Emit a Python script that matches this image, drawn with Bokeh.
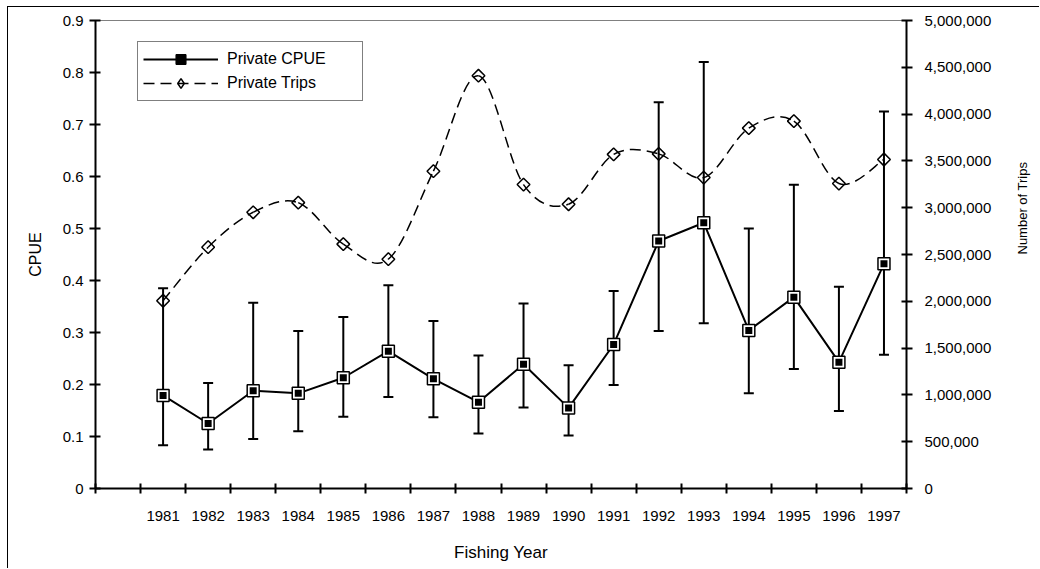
import math
from bokeh.plotting import figure
from bokeh.models import (Range1d, LinearAxis, FixedTicker, Whisker, TeeHead,
                          ColumnDataSource, Legend, LegendItem,
                          CustomJSTickFormatter, NumeralTickFormatter)
from bokeh.embed import file_html
from bokeh.resources import INLINE

# ---------------- data ----------------
years = [1981, 1982, 1983, 1984, 1985, 1986, 1987, 1988, 1989,
         1990, 1991, 1992, 1993, 1994, 1995, 1996, 1997]
year_labels = [str(y) for y in years]
cpue = [0.179, 0.125, 0.188, 0.183, 0.213, 0.264, 0.211, 0.166, 0.239,
        0.155, 0.277, 0.476, 0.511, 0.304, 0.368, 0.243, 0.432]
cpue_upper = [0.385, 0.203, 0.357, 0.303, 0.330, 0.391, 0.322, 0.256, 0.356,
              0.237, 0.380, 0.743, 0.820, 0.500, 0.584, 0.388, 0.725]
cpue_lower = [0.083, 0.075, 0.095, 0.110, 0.138, 0.176, 0.137, 0.106, 0.156,
              0.102, 0.199, 0.303, 0.318, 0.183, 0.230, 0.149, 0.257]
trips = [2006000, 2578000, 2951000, 3054000, 2611000, 2450000, 3390000,
         4410000, 3247000, 3037000, 3570000, 3575000, 3322000, 3850000,
         3925000, 3258000, 3515000]
cpue_ticks = [0, 0.1, 0.2, 0.3, 0.4, 0.5, 0.6, 0.7, 0.8, 0.9]
trip_ticks = [0, 500000, 1000000, 1500000, 2000000, 2500000, 3000000,
              3500000, 4000000, 4500000, 5000000]

FONT = "Liberation Sans"

# category boundaries (one empty slot before the first year)
x_start = years[0] - 1.5
x_end = years[-1] + 0.5
boundaries = [x_start + i for i in range(len(years) + 2)]

p = figure(width=1032, height=562,
           x_range=Range1d(x_start, x_end), y_range=Range1d(0, 0.9),
           x_axis_type=None, y_axis_type=None,
           output_backend="svg", toolbar_location=None,
           min_border_left=87, min_border_right=133,
           min_border_top=13, min_border_bottom=81,
           styles={"margin-left": "7px", "margin-top": "6px",
                   "border-left": "1px solid black", "border-top": "1px solid black"})
p.extra_y_ranges = {"trips": Range1d(0, 5000000)}
p.outline_line_color = "#808080"
p.outline_line_width = 1
p.background_fill_color = "white"
p.border_fill_color = "white"

# ---------------- axes ----------------
xaxis = LinearAxis(ticker=FixedTicker(ticks=years, minor_ticks=boundaries),
                   major_label_overrides={y: s for y, s in zip(years, year_labels)},
                   axis_label="Fishing Year")
xaxis.major_tick_in = 0
xaxis.major_tick_out = 0
xaxis.minor_tick_in = 5
xaxis.minor_tick_out = 5
xaxis.minor_tick_line_width = 2
xaxis.minor_tick_line_color = "black"
xaxis.axis_line_width = 2
xaxis.axis_line_color = "black"
xaxis.major_label_standoff = 17
xaxis.major_label_text_font = FONT
xaxis.major_label_text_font_size = "15px"
xaxis.major_label_text_color = "black"
xaxis.axis_label_text_font = FONT
xaxis.axis_label_text_font_size = "17px"
xaxis.axis_label_text_font_style = "normal"
xaxis.axis_label_text_color = "black"
xaxis.axis_label_standoff = 19
p.add_layout(xaxis, "below")

yaxis = LinearAxis(ticker=FixedTicker(ticks=cpue_ticks),
                   formatter=CustomJSTickFormatter(code="return tick == 0 ? '0' : tick.toFixed(1)"),
                   axis_label="CPUE")
yaxis.major_tick_in = 5
yaxis.major_tick_out = 6
yaxis.major_tick_line_width = 2
yaxis.minor_tick_line_color = None
yaxis.axis_line_width = 2
yaxis.major_label_standoff = 6
yaxis.major_label_text_font = FONT
yaxis.major_label_text_font_size = "15px"
yaxis.major_label_text_color = "black"
yaxis.axis_label_text_font = FONT
yaxis.axis_label_text_font_size = "16px"
yaxis.axis_label_text_font_style = "normal"
yaxis.axis_label_text_color = "black"
yaxis.axis_label_standoff = 16
p.add_layout(yaxis, "left")

raxis = LinearAxis(y_range_name="trips", ticker=FixedTicker(ticks=trip_ticks),
                   formatter=NumeralTickFormatter(format="0,0"),
                   axis_label="Number of Trips")
raxis.axis_label_orientation = math.pi / 2
raxis.major_tick_in = 5
raxis.major_tick_out = 6
raxis.major_tick_line_width = 2
raxis.minor_tick_line_color = None
raxis.axis_line_width = 2
raxis.major_label_standoff = 12
raxis.major_label_text_font = FONT
raxis.major_label_text_font_size = "15px"
raxis.major_label_text_color = "black"
raxis.axis_label_text_font = FONT
raxis.axis_label_text_font_size = "13px"
raxis.axis_label_text_font_style = "normal"
raxis.axis_label_text_color = "black"
raxis.axis_label_standoff = 28
p.add_layout(raxis, "right")

# ---------------- CPUE series ----------------
src = ColumnDataSource(dict(year=years, cpue=cpue, upper=cpue_upper, lower=cpue_lower))
whisk = Whisker(source=src, base="year", upper="upper", lower="lower",
                line_width=2, line_color="black", level="underlay",
                upper_head=TeeHead(size=10, line_width=2, line_color="black"),
                lower_head=TeeHead(size=10, line_width=2, line_color="black"))
p.add_layout(whisk)

cpue_line = p.line("year", "cpue", source=src, line_color="black", line_width=2)
sq_outer = p.scatter("year", "cpue", source=src, marker="square", size=12,
                     fill_color="white", line_color="black", line_width=1.5)
sq_inner = p.scatter("year", "cpue", source=src, marker="square", size=7,
                     fill_color="black", line_color=None)

# ---------------- Trips series (smoothed curve) ----------------
n = len(years)
bx0, by0, bx1, by1, bcx0, bcy0, bcx1, bcy1 = [], [], [], [], [], [], [], []
for i in range(n - 1):
    i0 = i - 1 if i > 0 else i
    i3 = i + 2 if i + 2 < n else i + 1
    bx0.append(years[i]); by0.append(trips[i])
    bx1.append(years[i + 1]); by1.append(trips[i + 1])
    bcx0.append(years[i] + (years[i + 1] - years[i0]) / 6.0)
    bcy0.append(trips[i] + (trips[i + 1] - trips[i0]) / 6.0)
    bcx1.append(years[i + 1] - (years[i3] - years[i]) / 6.0)
    bcy1.append(trips[i + 1] - (trips[i3] - trips[i]) / 6.0)
trips_curve = p.bezier(x0=bx0, y0=by0, x1=bx1, y1=by1,
                       cx0=bcx0, cy0=bcy0, cx1=bcx1, cy1=bcy1,
                       line_color="black", line_width=1.5, line_dash="11 6",
                       y_range_name="trips")
diamonds = p.scatter(years, trips, marker="square", angle=math.pi / 4, size=9,
                     fill_color=None, line_color="black", line_width=1.5,
                     y_range_name="trips")
# legend-only diamond (NaN position, never drawn inside the plot)
legend_diamond = p.scatter([float("nan")], [float("nan")], marker="diamond",
                           fill_color=None, line_color="black", line_width=1.5,
                           y_range_name="trips")

# ---------------- legend ----------------
legend = Legend(items=[
    LegendItem(label="Private CPUE", renderers=[cpue_line, sq_outer, sq_inner]),
    LegendItem(label="Private Trips", renderers=[trips_curve, legend_diamond]),
], location=(42, 387))
legend.padding = 5
legend.spacing = 0
legend.margin = 0
legend.glyph_width = 75
legend.glyph_height = 24
legend.label_height = 24
legend.label_width = 130
legend.label_standoff = 9
legend.label_text_font = FONT
legend.label_text_font_size = "16px"
legend.label_text_color = "black"
legend.border_line_color = "black"
legend.border_line_width = 1.5
legend.background_fill_color = "white"
legend.background_fill_alpha = 1.0
p.add_layout(legend)

open("out.html", "w").write(file_html(p, INLINE))
